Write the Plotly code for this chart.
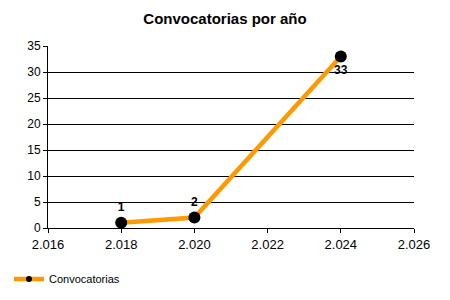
import plotly.graph_objects as go

years = [2018, 2020, 2024]
counts = [1, 2, 33]
label_pos = ["top center", "top center", "bottom center"]
x_ticks = [2016, 2018, 2020, 2022, 2024, 2026]
x_tick_labels = ["2.016", "2.018", "2.020", "2.022", "2.024", "2.026"]
y_ticks = [0, 5, 10, 15, 20, 25, 30, 35]

fig = go.Figure()
fig.add_trace(go.Scatter(
    x=years, y=counts, mode="lines+markers+text",
    name="Convocatorias", showlegend=False,
    line=dict(color="#FF9900", width=4.5),
    marker=dict(color="black", size=12),
    text=[str(c) for c in counts],
    textposition=label_pos,
    textfont=dict(family="Liberation Sans, Arial", size=12, color="black", weight="bold"),
    cliponaxis=False,
))
fig.add_trace(go.Scatter(
    x=[None], y=[None], mode="lines+markers", name="Convocatorias",
    line=dict(color="#FF9900", width=4.5),
    marker=dict(color="black", size=6),
))

fig.update_layout(
    width=450, height=300,
    margin=dict(l=48, r=36, t=46, b=72),
    paper_bgcolor="white", plot_bgcolor="white",
    font=dict(family="Liberation Sans, Arial", size=12, color="black"),
    title=dict(text="<b>Convocatorias por año</b>", x=0.5, xanchor="center",
               y=1 - 19/300, yanchor="middle", font=dict(size=15)),
    showlegend=True,
    legend=dict(orientation="h", xref="container", yref="container",
                x=0.02, y=1 - 279/300, xanchor="left", yanchor="middle",
                font=dict(size=11), itemwidth=30, bgcolor="rgba(0,0,0,0)"),
    xaxis=dict(range=[2016, 2026], tickvals=x_ticks, ticktext=x_tick_labels,
               showgrid=False, showline=True, linecolor="black", linewidth=1,
               ticks="outside", ticklen=4, tickcolor="black", zeroline=False,
               tickfont=dict(size=13)),
    yaxis=dict(range=[0, 35], tickvals=y_ticks, showgrid=True, gridcolor="black",
               gridwidth=1, showline=True, linecolor="black", linewidth=1,
               ticks="outside", ticklen=4, tickcolor="black", zeroline=False,
               tickfont=dict(size=12)),
)

fig.write_html("out.html")
